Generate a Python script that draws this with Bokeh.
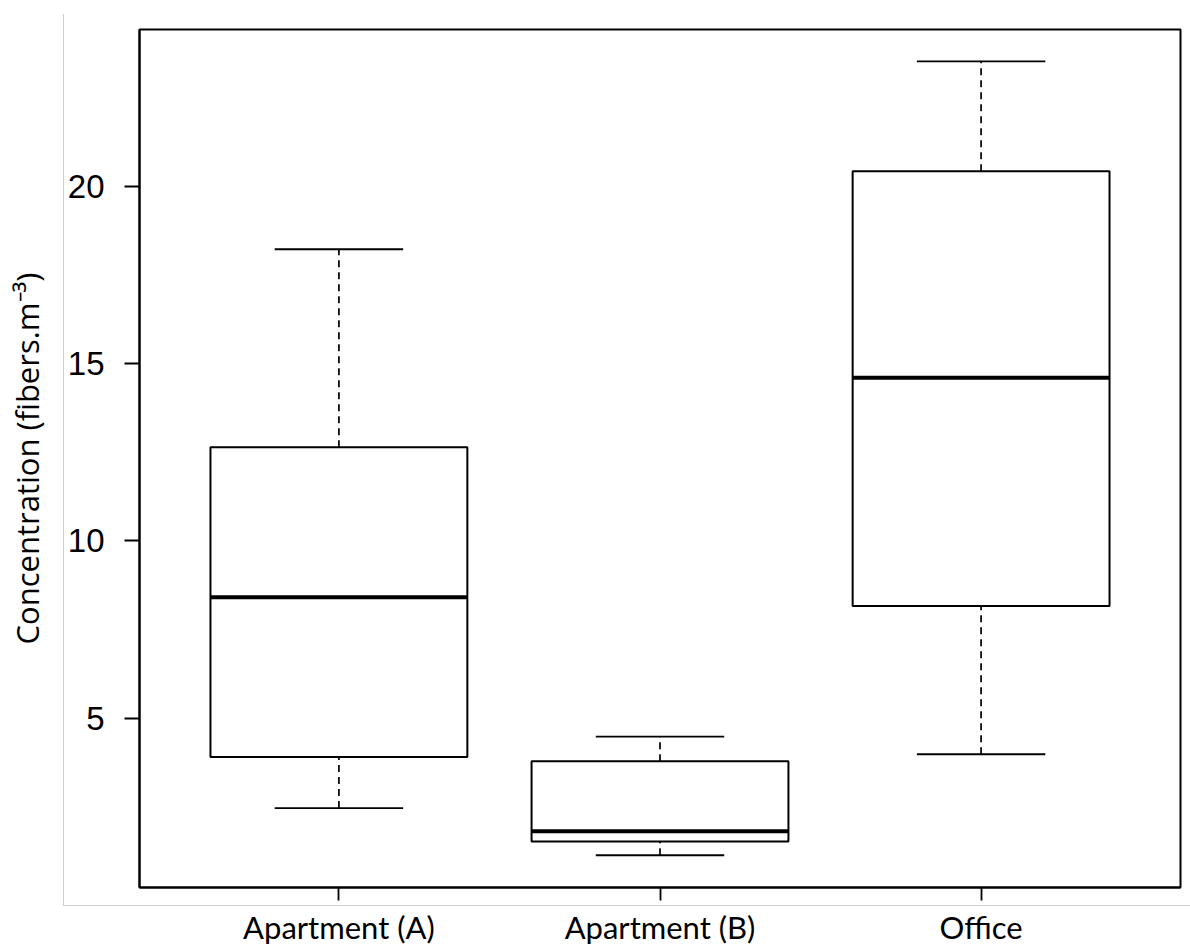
from bokeh.plotting import figure
from bokeh.models import FactorRange, Range1d, ColumnDataSource, FixedTicker
from bokeh.transform import dodge
from bokeh.embed import file_html
from bokeh.resources import INLINE

categories = ["Apartment (A)", "Apartment (B)", "Office"]
whisker_low = [2.46, 1.13, 3.98]
q1 = [3.90, 1.52, 8.16]
median = [8.41, 1.81, 14.60]
q3 = [12.64, 3.78, 20.43]
whisker_high = [18.23, 4.48, 23.53]
y_ticks = [5, 10, 15, 20]

src = ColumnDataSource(dict(cat=categories, lo=whisker_low, q1=q1, med=median, q3=q3, hi=whisker_high))

p = figure(x_range=FactorRange(factors=categories, range_padding=0.0807),
           y_range=Range1d(0.22, 24.43),
           width=1190, height=949, output_backend="svg", toolbar_location=None,
           min_border_left=139, min_border_right=10, min_border_top=29, min_border_bottom=62)

p.xgrid.visible = False
p.ygrid.visible = False
p.outline_line_color = "black"
p.outline_line_width = 2
p.outline_line_alpha = 1
# transparent canvas so the page's light-gray left/bottom frame lines show through
p.background_fill_color = None
p.border_fill_color = None
p.styles = {
    "background-color": "white",
    "background-image": "linear-gradient(#cfcfcf, #cfcfcf), linear-gradient(#cfcfcf, #cfcfcf)",
    "background-size": "1px 892px, 1127px 1px",
    "background-position": "63px 14px, 63px 905px",
    "background-repeat": "no-repeat",
}

# whiskers
p.segment(x0="cat", y0="q3", x1="cat", y1="hi", source=src, line_color="black",
          line_width=1.7, line_dash="7 5")
p.segment(x0="cat", y0="lo", x1="cat", y1="q1", source=src, line_color="black",
          line_width=1.7, line_dash="7 5")
# caps
p.segment(x0=dodge("cat", -0.2, range=p.x_range), y0="hi",
          x1=dodge("cat", 0.2, range=p.x_range), y1="hi", source=src,
          line_color="black", line_width=1.8)
p.segment(x0=dodge("cat", -0.2, range=p.x_range), y0="lo",
          x1=dodge("cat", 0.2, range=p.x_range), y1="lo", source=src,
          line_color="black", line_width=1.8)
# boxes
p.vbar(x="cat", bottom="q1", top="q3", width=0.8, source=src,
       fill_color="white", line_color="black", line_width=2)
# medians
p.segment(x0=dodge("cat", -0.4, range=p.x_range), y0="med",
          x1=dodge("cat", 0.4, range=p.x_range), y1="med", source=src,
          line_color="black", line_width=4)

# y axis
p.yaxis.ticker = FixedTicker(ticks=y_ticks)
p.yaxis.axis_line_color = "black"
p.yaxis.axis_line_width = 2
p.yaxis.major_tick_line_color = "black"
p.yaxis.major_tick_line_width = 1.8
p.yaxis.major_tick_out = 15
p.yaxis.major_tick_in = 0
p.yaxis.minor_tick_line_color = None
p.yaxis.major_label_text_font = "Liberation Sans"
p.yaxis.major_label_text_font_size = "33px"
p.yaxis.major_label_text_color = "black"
p.yaxis.major_label_standoff = 20
p.yaxis.axis_label = "Concentration (fibers.m\u207b\u00b3)"
p.yaxis.axis_label_text_font = "Open Sans"
p.yaxis.axis_label_text_font_style = "normal"
p.yaxis.axis_label_text_font_size = "31px"
p.yaxis.axis_label_text_color = "black"
p.yaxis.axis_label_standoff = 17

# x axis
p.xaxis.axis_line_color = "black"
p.xaxis.axis_line_width = 2
p.xaxis.major_tick_line_color = "black"
p.xaxis.major_tick_line_width = 1.8
p.xaxis.major_tick_out = 13
p.xaxis.major_tick_in = 0
p.xaxis.minor_tick_line_color = None
p.xaxis.major_label_text_font = "Lato"
p.xaxis.major_label_text_font_size = "31px"
p.xaxis.major_label_text_color = "black"
p.xaxis.major_label_standoff = 7

open("out.html", "w").write(file_html(p, INLINE))
